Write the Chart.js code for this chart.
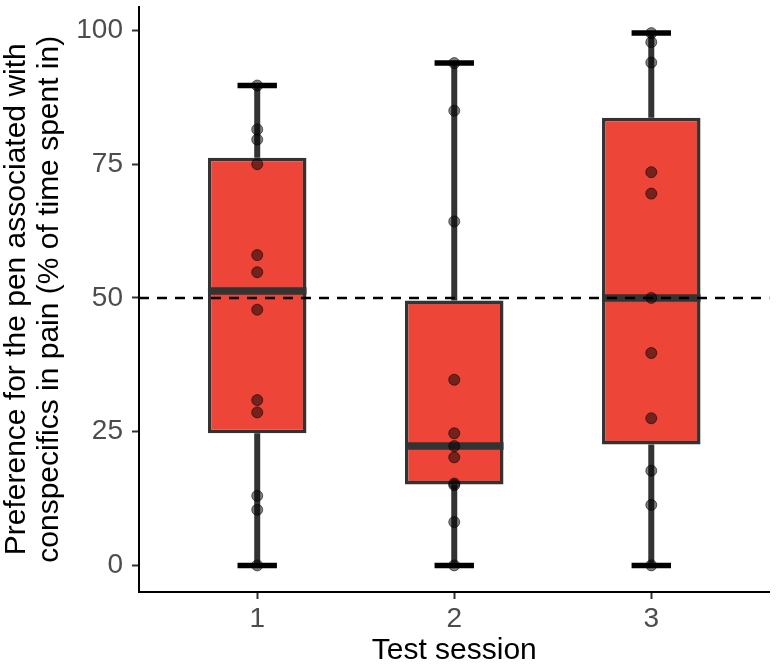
<!DOCTYPE html>
<html>
<head>
<meta charset="utf-8">
<script src="https://cdn.jsdelivr.net/npm/chart.js@4.4.1/dist/chart.umd.min.js"></script>
<style>
  html, body { margin: 0; padding: 0; background: #fff; }
  canvas { display: block; }
</style>
</head>
<body>
<canvas id="chart" width="776" height="669"></canvas>
<script>
  // test sessions and individual preference values (% of time)
  const sessions = ['1', '2', '3'];
  const session1Points = [89.7, 81.5, 79.6, 75.0, 58.0, 54.8, 47.8, 30.9, 28.6, 13.0, 10.4, 0];
  const session2Points = [93.9, 85.0, 64.3, 34.7, 24.7, 22.3, 20.2, 15.3, 15.0, 8.1, 0];
  const session3Points = [99.5, 97.8, 94.0, 73.5, 69.5, 50.0, 39.7, 27.5, 17.7, 11.3, 0];

  // box summary
  const lowerQuartile = [24.7, 15.1, 22.6];
  const medians = [51.3, 22.3, 50.0];
  const upperQuartile = [76.2, 49.5, 83.7];
  const whiskerLow = [0, 0, 0];
  const whiskerHigh = [89.7, 93.9, 99.5];

  const yTicks = [0, 25, 50, 75, 100];
  const chanceLevel = 50;
  const xRange = [0.4, 3.6];
  const yRange = [-4.975, 104.475];

  const FONT = "'Liberation Sans', Arial, sans-serif";
  const BOX_RED = '#ED4538';
  const DARK = '#333333';

  const allPoints = [session1Points, session2Points, session3Points];

  const boxParts = {
    id: 'boxParts',
    beforeDatasetsDraw(chart) {
      const { ctx, scales: { x, y } } = chart;
      ctx.save();
      sessions.forEach((s, i) => {
        const cx = x.getPixelForValue(i + 1);
        // whiskers
        ctx.strokeStyle = DARK;
        ctx.lineWidth = 6;
        ctx.beginPath();
        ctx.moveTo(cx, y.getPixelForValue(whiskerLow[i]));
        ctx.lineTo(cx, y.getPixelForValue(lowerQuartile[i]));
        ctx.moveTo(cx, y.getPixelForValue(upperQuartile[i]));
        ctx.lineTo(cx, y.getPixelForValue(whiskerHigh[i]));
        ctx.stroke();
        // caps
        const l = x.getPixelForValue(i + 1 - 0.1);
        const r = x.getPixelForValue(i + 1 + 0.1);
        ctx.strokeStyle = '#000';
        ctx.lineWidth = 5.5;
        ctx.beginPath();
        [whiskerLow[i], whiskerHigh[i]].forEach(v => {
          const py = y.getPixelForValue(v);
          ctx.moveTo(l, py);
          ctx.lineTo(r, py);
        });
        ctx.stroke();
      });
      ctx.restore();
    },
    afterDatasetDraw(chart, args) {
      if (args.index !== 0) return;
      const { ctx, scales: { x, y } } = chart;
      ctx.save();
      ctx.strokeStyle = DARK;
      ctx.lineWidth = 7.5;
      sessions.forEach((s, i) => {
        const py = y.getPixelForValue(medians[i]);
        ctx.beginPath();
        ctx.moveTo(x.getPixelForValue(i + 1 - 0.25), py);
        ctx.lineTo(x.getPixelForValue(i + 1 + 0.25), py);
        ctx.stroke();
      });
      ctx.restore();
    }
  };

  const ctx = document.getElementById('chart').getContext('2d');
  new Chart(ctx, {
    type: 'bar',
    data: {
      datasets: [
        {
          type: 'bar',
          label: 'IQR',
          data: sessions.map((s, i) => ({ x: i + 1, y: [lowerQuartile[i], upperQuartile[i]] })),
          backgroundColor: BOX_RED,
          borderColor: DARK,
          borderWidth: 3.5,
          borderSkipped: false,
          barPercentage: 0.5,
          categoryPercentage: 1,
          order: 3
        },
        {
          type: 'line',
          label: 'chance',
          data: xRange.map(v => ({ x: v, y: chanceLevel })),
          borderColor: '#000',
          borderWidth: 2.5,
          borderDash: [10, 8],
          pointRadius: 0,
          fill: false,
          order: 2
        },
        {
          type: 'scatter',
          label: 'animals',
          data: allPoints.flatMap((pts, i) => pts.map(v => ({ x: i + 1, y: v }))),
          backgroundColor: 'rgba(0,0,0,0.5)',
          borderColor: 'rgba(0,0,0,0.55)',
          borderWidth: 1,
          pointRadius: 5.5,
          order: 1
        }
      ]
    },
    options: {
      responsive: false,
      maintainAspectRatio: false,
      animation: false,
      layout: { padding: { top: 0, right: 3, bottom: 0, left: 0 } },
      plugins: {
        legend: { display: false },
        tooltip: { enabled: false }
      },
      scales: {
        x: {
          type: 'linear',
          min: xRange[0],
          max: xRange[1],
          offset: false,
          afterBuildTicks: scale => {
            scale.ticks = sessions.map((s, i) => ({ value: i + 1 }));
          },
          afterFit: scale => {
            scale.height = 77;
            scale.paddingLeft = 0;
            scale.paddingRight = 0;
          },
          ticks: {
            color: '#4d4d4d',
            font: { family: FONT, size: 28 },
            padding: 3,
            callback: v => sessions[v - 1]
          },
          grid: { offset: false, drawOnChartArea: false, tickLength: 7, tickColor: DARK, tickWidth: 2 },
          border: { color: '#000', width: 2 },
          title: {
            display: true,
            text: 'Test session',
            color: '#000',
            font: { family: FONT, size: 30 },
            padding: { top: 0, bottom: 0 }
          }
        },
        y: {
          min: yRange[0],
          max: yRange[1],
          afterBuildTicks: scale => {
            scale.ticks = yTicks.map(v => ({ value: v }));
          },
          afterFit: scale => {
            scale.width = 139;
            scale.paddingTop = 0;
            scale.paddingBottom = 0;
          },
          ticks: {
            color: '#4d4d4d',
            font: { family: FONT, size: 28 },
            padding: 9
          },
          grid: { drawOnChartArea: false, tickLength: 7, tickColor: DARK, tickWidth: 2 },
          border: { color: '#000', width: 2 },
          title: {
            display: true,
            text: ['Preference for the pen associated with', 'conspecifics in pain (% of time spent in)'],
            color: '#000',
            font: { family: FONT, size: 30, lineHeight: 1.1 },
            padding: { top: 0, bottom: 0 }
          }
        }
      }
    },
    plugins: [boxParts]
  });
</script>
</body>
</html>
